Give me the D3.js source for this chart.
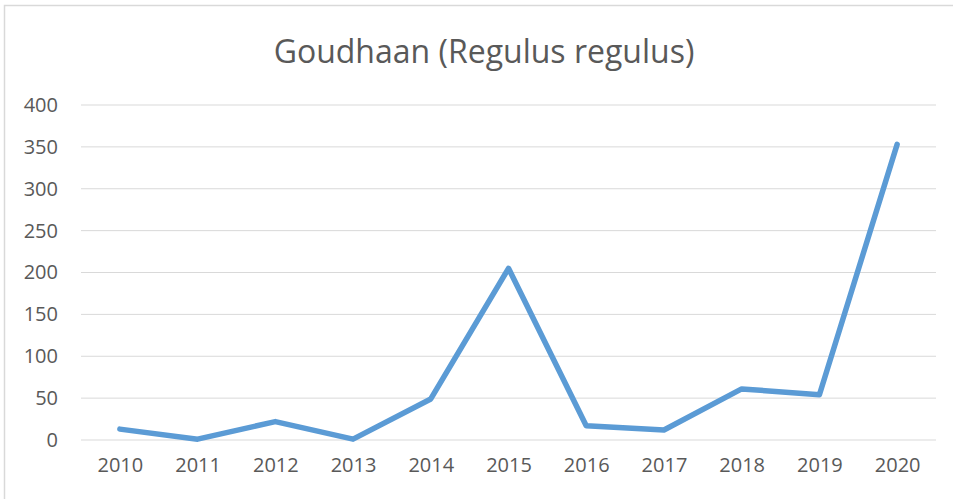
<!DOCTYPE html>
<html>
<head>
<meta charset="utf-8">
<script src="https://cdn.jsdelivr.net/npm/d3@7"></script>
<style>
  body { margin: 0; background: #fff; }
  text { font-family: "Open Sans", sans-serif; fill: #595959; }
</style>
</head>
<body>
<script>
// data
const years = ["2010", "2011", "2012", "2013", "2014", "2015", "2016", "2017", "2018", "2019", "2020"];
const counts = [13, 1, 22, 1, 49, 205, 17, 12, 61, 54, 353];
const yTicks = [0, 50, 100, 150, 200, 250, 300, 350, 400];
const title = "Goudhaan (Regulus regulus)";

const svgWidth = 953, svgHeight = 499;
const margin = { top: 105, right: 17, bottom: 59, left: 81 };
const width = svgWidth - margin.left - margin.right;
const height = svgHeight - margin.top - margin.bottom;

const svg = d3.select("body").append("svg")
    .attr("width", svgWidth)
    .attr("height", svgHeight);

// chart area border (runs off right and bottom in the reference)
svg.append("rect")
    .attr("x", 4.5).attr("y", 5.5)
    .attr("width", 960).attr("height", 510)
    .attr("fill", "none")
    .attr("stroke", "#d9d9d9")
    .attr("stroke-width", 1.5);

svg.append("text")
    .attr("x", 484).attr("y", 63)
    .attr("text-anchor", "middle")
    .attr("font-size", 32)
    .text(title);

const chartGroup = svg.append("g")
    .attr("transform", `translate(${margin.left}, ${margin.top})`);

const x = d3.scalePoint()
    .domain(years)
    .range([0, width])
    .padding(0.5);

const y = d3.scaleLinear()
    .domain([0, 400])
    .range([height, 0]);

// gridlines
chartGroup.selectAll(".grid")
    .data(yTicks)
    .enter()
    .append("line")
    .attr("x1", 0).attr("x2", width)
    .attr("y1", d => y(d)).attr("y2", d => y(d))
    .attr("stroke", "#d9d9d9")
    .attr("stroke-width", 1);

// y axis labels
const leftAxis = d3.axisLeft(y).tickValues(yTicks).tickSize(0).tickPadding(23);
chartGroup.append("g")
    .call(leftAxis)
    .call(g => g.select(".domain").remove())
    .selectAll("text")
    .attr("font-size", 20)
    .attr("font-family", "Open Sans, sans-serif")
    .attr("fill", "#595959");

// x axis labels
const bottomAxis = d3.axisBottom(x).tickSize(0).tickPadding(18);
chartGroup.append("g")
    .attr("transform", `translate(0, ${height})`)
    .call(bottomAxis)
    .call(g => g.select(".domain").remove())
    .selectAll("text")
    .attr("font-size", 20)
    .attr("font-family", "Open Sans, sans-serif")
    .attr("fill", "#595959");

// the line
const line = d3.line()
    .x((d, i) => x(years[i]))
    .y(d => y(d));

chartGroup.append("path")
    .datum(counts)
    .attr("d", line)
    .attr("fill", "none")
    .attr("stroke", "#5b9bd5")
    .attr("stroke-width", 5.5)
    .attr("stroke-linecap", "round")
    .attr("stroke-linejoin", "round");
</script>
</body>
</html>
